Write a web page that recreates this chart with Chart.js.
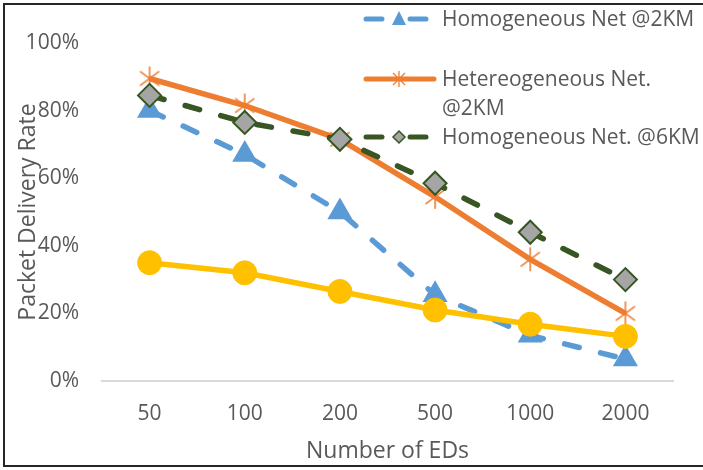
<!DOCTYPE html>
<html>
<head>
<meta charset="utf-8">
<script src="https://cdn.jsdelivr.net/npm/chart.js@4.4.0/dist/chart.umd.min.js"></script>
<style>
  html, body { margin: 0; padding: 0; background: #fff; overflow: hidden; }
  #wrap { position: relative; width: 703px; height: 470px; }
  #chart { position: absolute; left: 0; top: 0; }
  #frame { position: absolute; left: 3px; top: 3px; width: 730px; height: 464px;
           border: 2px solid #262626; border-right: none; box-sizing: border-box; pointer-events: none; }
  #legend { position: absolute; left: 0; top: 0; width: 703px; height: 170px; pointer-events: none;
            font-family: 'Open Sans', sans-serif; font-size: 21px; color: #595959; }
  #legend svg { position: absolute; left: 0; top: 0; }
  .lg { position: absolute; left: 442px; white-space: nowrap; line-height: 29px; }
</style>
</head>
<body>
<div id="wrap">
  <canvas id="chart" width="703" height="470"></canvas>
  <div id="legend">
    <svg width="703" height="170">
      <!-- Homogeneous Net @2KM -->
      <line x1="366" y1="19" x2="382" y2="19" stroke="#5b9bd5" stroke-width="5" stroke-linecap="round"/>
      <line x1="410" y1="19" x2="426" y2="19" stroke="#5b9bd5" stroke-width="5" stroke-linecap="round"/>
      <polygon points="399,11 406,25 392,25" fill="#5b9bd5"/>
      <!-- Hetereogeneous Net. @2KM -->
      <line x1="366" y1="79" x2="434" y2="79" stroke="#ed7d31" stroke-width="5" stroke-linecap="round"/>
      <g stroke="#ed7d31" stroke-width="1.3">
        <line x1="399" y1="71" x2="399" y2="87"/>
        <line x1="393" y1="73" x2="405" y2="85"/>
        <line x1="405" y1="73" x2="393" y2="85"/>
      </g>
      <!-- Homogeneous Net. @6KM -->
      <line x1="366" y1="137" x2="382" y2="137" stroke="#375623" stroke-width="5" stroke-linecap="round"/>
      <line x1="410" y1="137" x2="426" y2="137" stroke="#375623" stroke-width="5" stroke-linecap="round"/>
      <polygon points="399,131 405,137 399,143 393,137" fill="#a5a5a5" stroke="#375623" stroke-width="1.5"/>
    </svg>
    <div class="lg" style="top:4px;">Homogeneous Net @2KM</div>
    <div class="lg" style="top:64px;">Hetereogeneous Net.<br>@2KM</div>
    <div class="lg" style="top:122px;">Homogeneous Net. @6KM</div>
  </div>
  <div id="frame"></div>
</div>
<script>
// Number of end devices on the x axis
const categories = ['50', '100', '200', '500', '1000', '2000'];

// Packet delivery rate (%) per network setup
const homogeneous2km   = [80, 67, 50, 25.5, 13.5, 6.5];
const heterogeneous2km = [89.5, 81.5, 71.5, 54.5, 36, 20];
const homogeneous6km   = [84.5, 76.5, 71.5, 58.5, 44, 30];
const heterogeneous6km = [35, 32, 26.5, 21, 16.8, 13.2];

// Y axis ticks
const yTicks = [0, 20, 40, 60, 80, 100];

const FONT = "'Open Sans', sans-serif";
const TEXT = '#595959';

// Star marker: vertical stroke plus an X
function makeStar(size, color) {
  const c = document.createElement('canvas');
  c.width = size; c.height = size;
  const g = c.getContext('2d');
  const m = size / 2, r = size / 2 - 1;
  g.strokeStyle = color; g.lineWidth = 1.6;
  g.beginPath();
  g.moveTo(m, m - r); g.lineTo(m, m + r);
  const d = r * 0.8;
  g.moveTo(m - d, m - d * 0.75); g.lineTo(m + d, m + d * 0.75);
  g.moveTo(m + d, m - d * 0.75); g.lineTo(m - d, m + d * 0.75);
  g.stroke();
  return c;
}
const starImg = makeStar(26, '#ed7d31');

const datasets = [
  {
    label: 'Hetereogeneous Net. @6KM',
    data: heterogeneous6km,
    borderColor: '#ffc000', backgroundColor: '#ffc000',
    borderWidth: 5.5, pointStyle: 'circle', pointRadius: 12,
    pointBorderWidth: 1, pointBackgroundColor: '#ffc000', pointBorderColor: '#ffc000'
  },
  {
    label: 'Homogeneous Net. @6KM',
    data: homogeneous6km,
    borderColor: '#375623', backgroundColor: '#a5a5a5',
    borderWidth: 5.5, borderDash: [15, 22], borderCapStyle: 'round',
    pointStyle: 'rectRot', pointRadius: 11.5, pointBorderWidth: 2,
    pointBackgroundColor: '#a5a5a5', pointBorderColor: '#375623'
  },
  {
    label: 'Hetereogeneous Net. @2KM',
    data: heterogeneous2km,
    borderColor: '#ed7d31', backgroundColor: '#ed7d31',
    borderWidth: 5.5, pointStyle: starImg, pointRadius: 13
  },
  {
    label: 'Homogeneous Net @2KM',
    data: homogeneous2km,
    borderColor: '#5b9bd5', backgroundColor: '#5b9bd5',
    borderWidth: 5.5, borderDash: [15, 22], borderCapStyle: 'round',
    pointStyle: 'triangle', pointRadius: 14.5, pointBorderWidth: 0,
    pointBackgroundColor: '#5b9bd5', pointBorderColor: '#5b9bd5'
  }
];

new Chart(document.getElementById('chart'), {
  type: 'line',
  data: { labels: categories, datasets },
  options: {
    responsive: false,
    animation: false,
    layout: { padding: { left: 0, right: 30, top: 43, bottom: 0 } },
    plugins: { legend: { display: false }, tooltip: { enabled: false } },
    elements: { line: { tension: 0 } },
    scales: {
      x: {
        offset: true,
        grid: { display: false },
        border: { display: true, color: '#d9d9d9', width: 2 },
        ticks: { color: TEXT, font: { family: FONT, size: 21 }, padding: 12, maxRotation: 0 },
        title: { display: true, text: 'Number of EDs', color: TEXT,
                 font: { family: FONT, size: 23 }, padding: { top: 5, bottom: 5 } },
        afterFit(scale) { scale.height = 89; }
      },
      y: {
        min: 0, max: 100,
        afterBuildTicks(scale) { scale.ticks = yTicks.map(v => ({ value: v })); },
        grid: { display: false },
        border: { display: false },
        ticks: { color: TEXT, font: { family: FONT, size: 21 }, padding: 15,
                 callback: v => v + '%' },
        title: { display: true, text: 'Packet Delivery Rate', color: TEXT,
                 font: { family: FONT, size: 23 }, padding: { top: 15, bottom: 15 } },
        afterFit(scale) { scale.width = 102; }
      }
    }
  }
});
</script>
</body>
</html>
